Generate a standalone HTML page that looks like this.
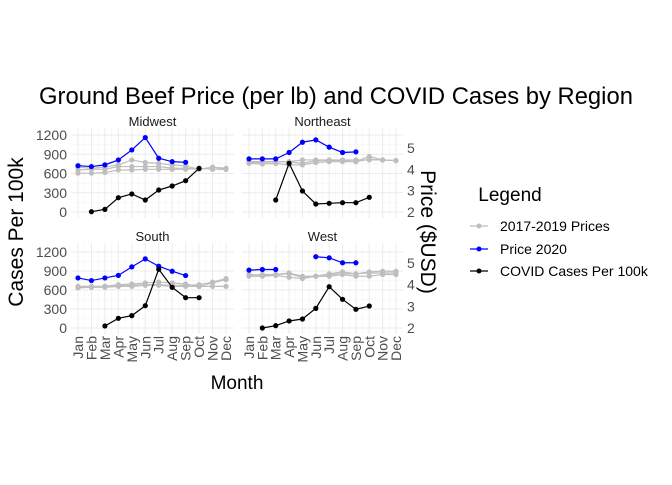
<!DOCTYPE html>
<html><head><meta charset="utf-8"><style>
body{margin:0;background:#fff;}
svg{font-family:"Liberation Sans",sans-serif;}
</style></head><body>
<svg id="chart" width="672" height="480" viewBox="0 0 672 480" xmlns="http://www.w3.org/2000/svg">
<text x="336" y="104" font-size="23.8" text-anchor="middle" fill="#000">Ground Beef Price (per lb) and COVID Cases by Region</text>
<text transform="translate(23,232) rotate(-90)" font-size="21" text-anchor="middle">Cases Per 100k</text>
<text transform="translate(421,232) rotate(90)" font-size="21" text-anchor="middle">Price ($USD)</text>
<text x="237" y="389" font-size="19" text-anchor="middle">Month</text>
<g>
<text x="510" y="201" font-size="19" text-anchor="middle">Legend</text>
<g><line x1="470" y1="226" x2="488" y2="226" stroke="#bebebe" stroke-width="1.2"/><circle cx="479" cy="226" r="2.5" fill="#bebebe"/><text x="500" y="231" font-size="14">2017-2019 Prices</text></g>
<g><line x1="470" y1="249" x2="488" y2="249" stroke="#0000ff" stroke-width="1.2"/><circle cx="479" cy="249" r="2.5" fill="#0000ff"/><text x="500" y="254" font-size="14">Price 2020</text></g>
<g><line x1="470" y1="271" x2="488" y2="271" stroke="#000" stroke-width="1.2"/><circle cx="479" cy="271" r="2.5" fill="#000"/><text x="500" y="276" font-size="14">COVID Cases Per 100k</text></g>
</g>
</svg>
<script>
const months=["Jan","Feb","Mar","Apr","May","Jun","Jul","Aug","Sep","Oct","Nov","Dec"];
const regions=["Midwest","Northeast","South","West"];
const caseTicks=[0,300,600,900,1200];
const priceTicks=[2,3,4,5];
// 2020 prices (Jan..Dec, null = missing)
const price2020Midwest=[4.17,4.13,4.21,4.44,4.91,5.49,4.52,4.36,4.33,null,null,null];
const price2020Northeast=[4.49,4.49,4.49,4.79,5.27,5.38,5.04,4.79,4.82,null,null,null];
const price2020South=[4.31,4.19,4.31,4.43,4.82,5.19,4.85,4.62,4.42,null,null,null];
const price2020West=[4.67,4.70,4.70,null,null,5.29,5.24,5.01,5.01,null,null,null];
// historic prices 2017, 2018, 2019
const hist2017Midwest=[3.82,3.82,3.85,3.97,3.97,4.00,4.00,4.00,4.00,4.05,4.00,4.00];
const hist2018Midwest=[3.97,4.00,4.00,4.13,4.13,4.13,4.13,4.05,4.05,4.00,4.10,4.05];
const hist2019Midwest=[4.10,4.05,4.10,4.21,4.44,4.32,4.28,4.21,4.16,4.00,4.10,4.00];
const hist2017Northeast=[4.28,4.25,4.28,4.21,4.21,4.32,4.36,4.36,4.36,4.47,4.44,4.41];
const hist2018Northeast=[4.36,4.36,4.36,4.36,4.44,4.44,4.44,4.44,4.44,4.44,4.44,4.41];
const hist2019Northeast=[4.32,4.32,4.36,4.36,4.28,4.41,4.41,4.41,4.36,4.60,4.44,4.41];
const hist2017South=[3.85,3.88,3.88,3.92,3.92,3.97,3.97,3.92,3.92,3.92,3.92,3.92];
const hist2018South=[3.88,3.88,3.92,4.00,4.03,4.08,4.12,4.08,4.03,3.92,4.08,4.23];
const hist2019South=[3.92,3.92,3.92,3.97,3.97,4.00,4.00,3.97,3.97,4.00,4.12,4.28];
const hist2017West=[4.39,4.39,4.43,4.34,4.28,4.39,4.39,4.47,4.39,4.39,4.47,4.47];
const hist2018West=[4.47,4.43,4.47,4.50,4.34,4.39,4.47,4.50,4.50,4.59,4.62,4.62];
const hist2019West=[4.43,4.47,4.47,4.54,4.39,4.39,4.50,4.59,4.50,4.54,4.54,4.54];
// COVID cases per 100k
const casesMidwest=[null,5,41,223,281,187,343,405,488,680,null,null];
const casesNortheast=[null,null,187,759,327,125,135,145,145,229,null,null];
const casesSouth=[null,null,32,153,195,352,927,642,479,479,null,null];
const casesWest=[null,0,37,111,142,310,652,453,295,347,null,null];

const data={
 Midwest:{p:price2020Midwest,h:[hist2017Midwest,hist2018Midwest,hist2019Midwest],c:casesMidwest},
 Northeast:{p:price2020Northeast,h:[hist2017Northeast,hist2018Northeast,hist2019Northeast],c:casesNortheast},
 South:{p:price2020South,h:[hist2017South,hist2018South,hist2019South],c:casesSouth},
 West:{p:price2020West,h:[hist2017West,hist2018West,hist2019West],c:casesWest}
};
const NS="http://www.w3.org/2000/svg";
const svg=document.getElementById('chart');
function mk(t,a,p){const e=document.createElementNS(NS,t);for(const k in a)e.setAttribute(k,a[k]);(p||svg).appendChild(e);return e;}
const panels=[
 {r:"Midwest",x0:71,x1:234,xJan:78,xDec:226,y0:128,y1:218,cy0:212,cy1200:135,py2:212,py5:148,left:true,right:false,bottom:false},
 {r:"Northeast",x0:242,x1:403,xJan:249,xDec:396,y0:128,y1:218,cy0:212,cy1200:135,py2:212,py5:148,left:false,right:true,bottom:false},
 {r:"South",x0:71,x1:234,xJan:78,xDec:226,y0:243,y1:334,cy0:328,cy1200:252,py2:328,py5:263,left:true,right:false,bottom:true},
 {r:"West",x0:242,x1:403,xJan:249,xDec:396,y0:243,y1:334,cy0:328,cy1200:252,py2:328,py5:263,left:false,right:true,bottom:true}
];
function drawSeries(g,vals,xf,yf,color,name){
 let seg=[];
 const flush=()=>{if(seg.length>1){const l=mk('polyline',{points:seg.map(p=>p.join(',')).join(' '),fill:'none',stroke:color,'stroke-width':1.2},g);
 
 }seg=[];};
 vals.forEach((v,i)=>{if(v==null){flush();return;}seg.push([xf(i),yf(v)]);});
 flush();
 vals.forEach((v,i)=>{if(v==null)return;const c=mk('circle',{cx:xf(i),cy:yf(v),r:2.6,fill:color},g);
 
 });
}
panels.forEach(P=>{
 const g=mk('g',{});
 
 
 const xf=i=>P.xJan+(P.xDec-P.xJan)*i/11;
 const cf=v=>P.cy0+(P.cy1200-P.cy0)*v/1200;
 const pf=v=>P.py2+(P.py5-P.py2)*(v-2)/3;
 for(let i=0;i<12;i++){mk('line',{x1:xf(i),x2:xf(i),y1:P.y0,y2:P.y1,stroke:'#ebebeb','stroke-width':1},g);
  if(i<11)mk('line',{x1:xf(i+0.5),x2:xf(i+0.5),y1:P.y0,y2:P.y1,stroke:'#f3f3f3','stroke-width':0.5},g);}
 for(let v=0;v<=1200;v+=150){mk('line',{x1:P.x0,x2:P.x1,y1:cf(v),y2:cf(v),stroke:v%300==0?'#ebebeb':'#f3f3f3','stroke-width':v%300==0?1:0.5},g);}
 const st=mk('text',{x:(P.x0+P.x1)/2,y:P.y0-2,'font-size':13,'text-anchor':'middle',fill:'#1a1a1a'},g);st.textContent=P.r;
 
 
 if(P.left)caseTicks.forEach(t=>{const e=mk('text',{x:67,y:cf(t)+5,'font-size':14,'text-anchor':'end',fill:'#4d4d4d'},g);e.textContent=t;
  
  });
 if(P.right)priceTicks.forEach(t=>{const e=mk('text',{x:407,y:pf(t)+5,'font-size':14,fill:'#4d4d4d'},g);e.textContent=t;
  
  });
 if(P.bottom)months.forEach((m,i)=>{const e=mk('text',{transform:`translate(${xf(i)+5},${P.y1+2}) rotate(-90)`,'font-size':14,'text-anchor':'end',fill:'#4d4d4d'},g);e.textContent=m;
  
  });
 const d=data[P.r];
 d.h.forEach((h,k)=>drawSeries(g,h,xf,pf,'#bebebe','historic-'+(2017+k)));
 drawSeries(g,d.p,xf,pf,'#0000ff','price-2020');
 drawSeries(g,d.c,xf,cf,'#000000','covid-cases');
});
</script>
</body></html>
